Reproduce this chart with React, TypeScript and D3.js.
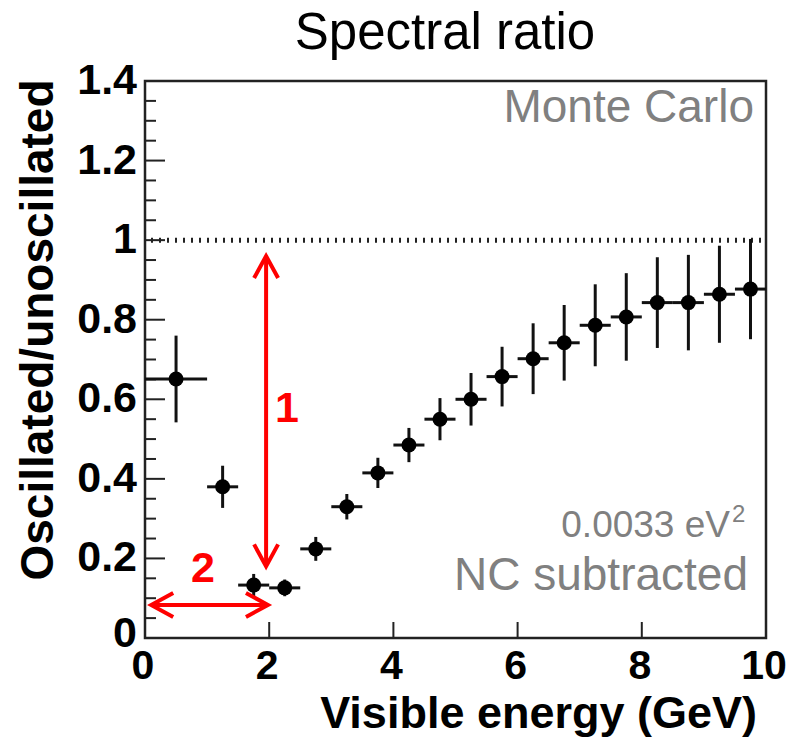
import React from "react";
import * as d3 from "d3";

const binLow = [0, 1, 1.5, 2, 2.5, 3, 3.5, 4, 4.5, 5, 5.5, 6, 6.5, 7, 7.5, 8, 8.5, 9, 9.5];
const binHigh = [1, 1.5, 2, 2.5, 3, 3.5, 4, 4.5, 5, 5.5, 6, 6.5, 7, 7.5, 8, 8.5, 9, 9.5, 10];
const ratio = [0.651, 0.38, 0.133, 0.126, 0.224, 0.33, 0.415, 0.485, 0.55, 0.6, 0.657, 0.702, 0.742, 0.786, 0.807, 0.843, 0.843, 0.864, 0.877];
const ratioErr = [0.109, 0.053, 0.028, 0.021, 0.03, 0.032, 0.038, 0.043, 0.053, 0.066, 0.075, 0.089, 0.095, 0.103, 0.11, 0.114, 0.12, 0.122, 0.126];
const xTicks = [0, 2, 4, 6, 8, 10];
const yTicks = [0, 0.2, 0.4, 0.6, 0.8, 1, 1.2, 1.4];
const yTickLabels = ["0", "0.2", "0.4", "0.6", "0.8", "1", "1.2", "1.4"];

const W = 797;
const H = 739;
const FONT = "'Liberation Sans', Arial, Helvetica, sans-serif";

export default function App() {
  const x = d3.scaleLinear().domain([0, 10]).range([145, 766]);
  const y = d3.scaleLinear().domain([0, 1.4]).range([638, 81]);
  const minorY = d3.range(0, 1.4001, 0.05);
  const axisColor = "#222";

  const arrowHead = (tx: number, ty: number, dx: number, dy: number) => {
    const L = 22, Wd = 12;
    const bx = tx - dx * L, by = ty - dy * L;
    const px = -dy, py = dx;
    return `M${bx + px * Wd},${by + py * Wd} L${tx},${ty} L${bx - px * Wd},${by - py * Wd}`;
  };

  const vX = x(1.95), vTop = y(0.96), vBot = y(0.18);
  const hY = y(0.083), hL = x(0.1), hR = x(1.98);

  return (
    <svg width={W} height={H} style={{ position: "absolute", left: 0, top: 0, background: "#fff" }} fontFamily={FONT}>
      <rect x={0} y={0} width={W} height={H} fill="#fff" />
      <text x={445} y={49} textAnchor="middle" fontSize={51} fill="#000">Spectral ratio</text>

      <line x1={x(0) + 6} x2={x(10)} y1={y(1)} y2={y(1)} stroke={axisColor} strokeWidth={5} strokeDasharray="2 6" />

      <rect x={x(0)} y={y(1.4)} width={x(10) - x(0)} height={y(0) - y(1.4)} fill="none" stroke={axisColor} strokeWidth={2.5} />

      {minorY.map((v, i) => {
        const major = i % 4 === 0;
        return <line key={"yt" + i} x1={x(0)} x2={x(0) + (major ? 20 : 11)} y1={y(v)} y2={y(v)} stroke={axisColor} strokeWidth={2} />;
      })}
      {yTicks.map((v, i) => (
        <text key={"yl" + i} x={137} y={y(v) + (i === 0 ? 9 : 13)} textAnchor="end" fontSize={43} fontWeight="bold" fill="#000">{yTickLabels[i]}</text>
      ))}
      {xTicks.map((v, i) => (
        <g key={"xt" + i}>
          <line x1={x(v)} x2={x(v)} y1={y(0)} y2={y(0) - 16} stroke={axisColor} strokeWidth={2} />
          <text x={x(v) - 2} y={679} textAnchor="middle" fontSize={41} fontWeight="bold" fill="#000">{String(v)}</text>
        </g>
      ))}

      <text x={757} y={728} textAnchor="end" fontSize={45} fontWeight="bold" fill="#000">Visible energy (GeV)</text>
      <text transform={`translate(53,330) rotate(-90)`} textAnchor="middle" fontSize={46} fontWeight="bold" fill="#000">Oscillated/unoscillated</text>

      {ratio.map((r, i) => {
        const cx = x((binLow[i] + binHigh[i]) / 2);
        const cy = y(r);
        return (
          <g key={"p" + i}>
            <line x1={x(binLow[i])} x2={x(binHigh[i])} y1={cy} y2={cy} stroke="#111" strokeWidth={3} />
            <line x1={cx} x2={cx} y1={y(r - ratioErr[i])} y2={y(r + ratioErr[i])} stroke="#111" strokeWidth={3} />
            <circle cx={cx} cy={cy} r={7.5} fill="#000" />
          </g>
        );
      })}

      <text x={754} y={122} textAnchor="end" fontSize={46} fill="#808080">Monte Carlo</text>
      <text x={730} y={537} textAnchor="end" fontSize={37} fill="#808080">0.0033 eV</text>
      <text x={732} y={522} fontSize={24} fill="#808080">2</text>
      <text x={748} y={590} textAnchor="end" fontSize={46} fill="#808080">NC subtracted</text>

      <g stroke="#ff0000" strokeWidth={4} fill="none" strokeLinecap="butt">
        <line x1={vX} x2={vX} y1={vTop + 2} y2={vBot - 2} />
        <path d={arrowHead(vX, vTop, 0, -1)} />
        <path d={arrowHead(vX, vBot, 0, 1)} />
        <line x1={hL + 2} x2={hR - 2} y1={hY} y2={hY} />
        <path d={arrowHead(hL, hY, -1, 0)} />
        <path d={arrowHead(hR, hY, 1, 0)} />
      </g>
      <text x={287} y={422} textAnchor="middle" fontSize={43} fontWeight="bold" fill="#ff0000">1</text>
      <text x={203} y={582} textAnchor="middle" fontSize={43} fontWeight="bold" fill="#ff0000">2</text>
    </svg>
  );
}
